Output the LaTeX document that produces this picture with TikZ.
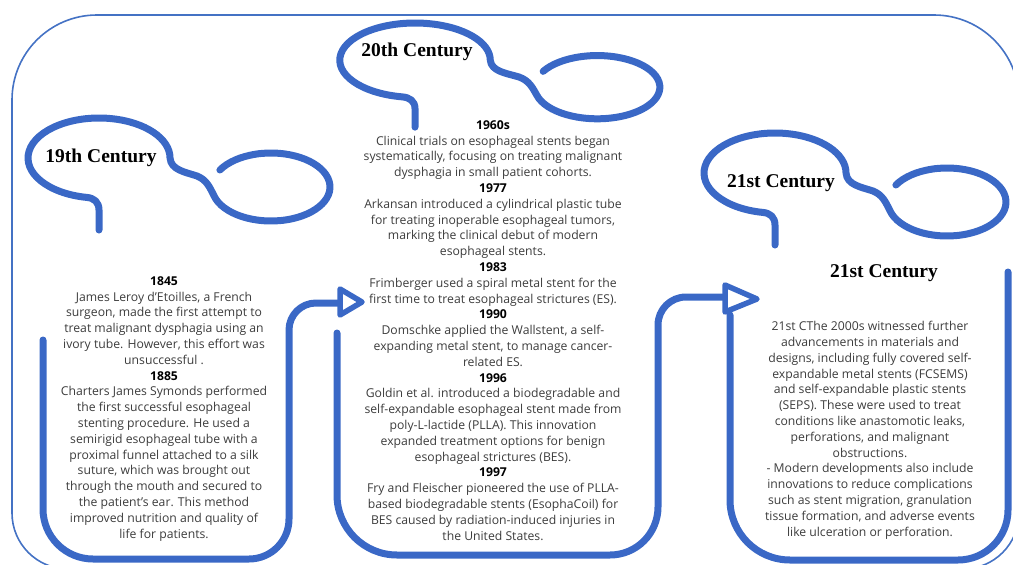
\documentclass[tikz,border=0pt]{standalone}
\usepackage{fontspec}
\setmainfont{Open Sans}
\newfontfamily\erafont{Liberation Serif}
\definecolor{frameblue}{HTML}{4472C4}
\definecolor{lineblue}{HTML}{3A68C6}
\definecolor{bodytext}{HTML}{3C3C3C}
\newcommand\yearmark[1]{{\bfseries\color{black}#1}}
\tikzset{
  rail/.style={draw=lineblue, line width=7pt, line cap=round, line join=round},
  outline/.style={draw=frameblue, line width=1.6pt},
  head/.style={draw=lineblue, line width=5.5pt, line join=round, fill=white},
  era/.style={font=\erafont\bfseries\fontsize{19.5}{22}\selectfont, text=black, inner sep=0pt},
  % the base anchor of these blocks sits on their last line
  notes/.style={font=\fontsize{12.2}{15.8}\selectfont, text=bodytext, align=center, inner sep=0pt, anchor=base},
  % heading loop: stem, oval round the heading, S-shaped neck, open ring
  bubble/.pic={
    \draw[rail] (0,112) -- (0,92) .. controls (0,84) and (-5,80) .. (-12.3,79.4)
      arc[start angle=100, end angle=360, x radius=71, y radius=40]
      .. controls (72,52) and (86,54) .. (98,58)
      .. controls (108,62) and (111,70) .. (115,77.8)
      arc[start angle=165, end angle=-150, x radius=59, y radius=34];
  }
}
\begin{document}
\begin{tikzpicture}[x=1pt, y=-1pt]
\useasboundingbox (0,0) rectangle (1013,565);

% outer frame
\draw[outline, rounded corners=85] (12,400) -- (12,15) -- (1019,15) -- (1019,400);
\draw[outline, rounded corners=56] (12,399) -- (12,569) -- (1019,569) -- (1019,399);

% era headings with their loops
\pic at (99,118) {bubble};
\pic[xscale=1.06, yscale=0.93] at (415,23) {bubble};
\pic at (775,133) {bubble};

\node[era] (c19) at (101,158) {19th Century};
\node[era] (c20) at (417,52) {20th Century};
\node[era] (c21a) at (781,183) {21st Century};
\node[era] (c21b) at (884,273) {21st Century};

% timeline rails
\coordinate (tipA) at (340,303);
\coordinate (tipB) at (725,297);
\draw[rail] (43,340) -- (43,509) arc[start angle=180, end angle=90, radius=50]
  -- (249,559) arc[start angle=90, end angle=0, radius=40]
  -- (289,330) arc[start angle=180, end angle=270, radius=27] -- (tipA);
\draw[rail] (337,333) -- (337,495) arc[start angle=180, end angle=90, radius=60]
  -- (610,555) arc[start angle=90, end angle=0, radius=48]
  -- (658,325) arc[start angle=180, end angle=270, radius=28] -- (tipB);
\draw[rail] (730,315) -- (730,500) arc[start angle=180, end angle=90, radius=60]
  -- (958,560) arc[start angle=90, end angle=0, radius=50] -- (1008,272);

\draw[head] (340,289) -- (362,302) -- (340,315) -- cycle;
\draw[head] (725,285) -- (757,299) -- (725,312) -- cycle;

% notes
\node[notes] (n19) at (164,538) {\yearmark{1845}\\
James Leroy d’Etoilles, a French\\
surgeon, made the first attempt to\\
treat malignant dysphagia using an\\
ivory tube. However, this effort was\\
unsuccessful .\\
\yearmark{1885}\\
Charters James Symonds performed\\
the first successful esophageal\\
stenting procedure. He used a\\
semirigid esophageal tube with a\\
proximal funnel attached to a silk\\
suture, which was brought out\\
through the mouth and secured to\\
the patient’s ear. This method\\
improved nutrition and quality of\\
life for patients.};

\node[notes] (n20) at (493,540) {\yearmark{1960s}\\
Clinical trials on esophageal stents began\\
systematically, focusing on treating malignant\\
dysphagia in small patient cohorts.\\
\yearmark{1977}\\
Arkansan introduced a cylindrical plastic tube\\
for treating inoperable esophageal tumors,\\
marking the clinical debut of modern\\
esophageal stents.\\
\yearmark{1983}\\
Frimberger used a spiral metal stent for the\\
first time to treat esophageal strictures (ES).\\
\yearmark{1990}\\
Domschke applied the Wallstent, a self-\\
expanding metal stent, to manage cancer-\\
related ES.\\
\yearmark{1996}\\
Goldin et al. introduced a biodegradable and\\
self-expandable esophageal stent made from\\
poly-L-lactide (PLLA). This innovation\\
expanded treatment options for benign\\
esophageal strictures (BES).\\
\yearmark{1997}\\
Fry and Fleischer pioneered the use of PLLA-\\
based biodegradable stents (EsophaCoil) for\\
BES caused by radiation-induced injuries in\\
the United States.};

\node[notes] (n21) at (870,536) {21st CThe 2000s witnessed further\\
advancements in materials and\\
designs, including fully covered self-\\
expandable metal stents (FCSEMS)\\
and self-expandable plastic stents\\
(SEPS). These were used to treat\\
conditions like anastomotic leaks,\\
perforations, and malignant\\
obstructions.\\
- Modern developments also include\\
innovations to reduce complications\\
such as stent migration, granulation\\
tissue formation, and adverse events\\
like ulceration or perforation.};
\end{tikzpicture}
\end{document}
